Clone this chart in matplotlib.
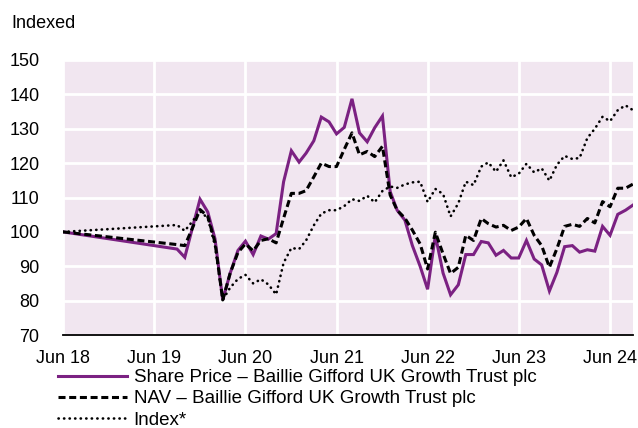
import matplotlib
matplotlib.use('Agg')
import matplotlib.pyplot as plt
import pandas as pd

# Data (indexed to 100 at Jun 2018)
start_date = '2018-06-30'
monthly_dates = pd.date_range('2019-09-30', '2024-09-30', freq='ME')

share_price = [
    95.0, 92.6, 101.0, 109.5, 105.8, 98.0, 80.2, 88.0, 94.6, 97.3,
    93.4, 98.8, 97.9, 99.5, 114.6, 123.6, 120.3, 122.9, 126.5, 133.4,
    132.0, 128.5, 130.4, 138.7, 128.8, 126.2, 130.3, 133.7, 111.7, 106.3,
    103.4, 96.0, 90.0, 83.3, 99.0, 88.0, 81.7, 84.6, 93.4, 93.4,
    97.2, 96.8, 93.2, 94.6, 92.4, 92.4, 97.5, 92.1, 90.4, 82.8,
    88.2, 95.7, 96.0, 94.1, 94.8, 94.4, 101.6, 99.0, 105.1, 106.3, 107.8,
]
nav = [
    96.3, 96.0, 101.0, 106.5, 104.5, 97.0, 80.2, 88.0, 94.0, 96.5,
    94.5, 97.5, 98.0, 96.8, 104.0, 111.2, 111.2, 112.0, 116.0, 120.0,
    119.0, 119.0, 124.0, 128.8, 122.4, 123.4, 121.9, 124.9, 110.7, 106.3,
    104.0, 100.5, 96.5, 89.2, 99.9, 93.6, 87.9, 89.7, 99.0, 97.5,
    103.9, 102.4, 101.4, 101.9, 100.4, 101.4, 103.9, 99.0, 96.0, 89.7,
    95.1, 101.6, 102.2, 101.6, 103.9, 102.6, 108.8, 107.3, 112.7, 112.7, 113.9,
]
index = [
    102.0, 100.3, 103.0, 106.0, 104.0, 96.0, 80.2, 83.8, 86.3, 87.5,
    85.0, 86.2, 84.7, 81.8, 91.0, 95.3, 95.0, 97.5, 101.9, 105.3,
    106.3, 106.3, 107.5, 109.5, 109.0, 110.5, 108.6, 111.9, 113.2, 112.8,
    113.8, 114.4, 114.6, 108.7, 112.5, 111.0, 104.5, 108.3, 114.6, 113.6,
    119.0, 120.2, 117.5, 120.8, 115.9, 116.9, 119.8, 117.3, 118.5, 114.9,
    119.5, 122.1, 121.2, 121.5, 127.3, 130.0, 133.5, 132.2, 135.4, 136.8, 135.4,
]

tick_years = [2018, 2019, 2020, 2021, 2022, 2023, 2024]
tick_labels = ['Jun 18', 'Jun 19', 'Jun 20', 'Jun 21', 'Jun 22', 'Jun 23', 'Jun 24']
y_ticks = [70, 80, 90, 100, 110, 120, 130, 140, 150]

labels = [
    'Share Price \u2013 Baillie Gifford UK Growth Trust plc',
    'NAV \u2013 Baillie Gifford UK Growth Trust plc',
    'Index*',
]

# Colours
purple = '#7B2182'
bg_color = '#F1E6F0'

plt.rcParams['font.family'] = ['Liberation Sans', 'DejaVu Sans']
plt.rcParams['font.size'] = 13

dates = [pd.Timestamp(start_date)] + list(monthly_dates)
share_series = [100.0] + share_price
nav_series = [100.0] + nav
index_series = [100.0] + index

fig = plt.figure(figsize=(6.38, 4.28), dpi=100)
ax = fig.add_axes([63 / 638, 1 - 335 / 428, 570 / 638, 275 / 428])
ax.set_facecolor(bg_color)

ax.plot(dates, share_series, color=purple, linewidth=2.2, label=labels[0],
        solid_joinstyle='miter')
ax.plot(dates, nav_series, color='black', linewidth=2.2, linestyle=(0, (2.3, 1.2)),
        label=labels[1])
ax.plot(dates, index_series, color='black', linewidth=1.9, linestyle=(0, (0.1, 2.0)),
        dash_capstyle='round', label=labels[2])

# Axes limits and ticks
ax.set_ylim(70, 150)
ax.set_xlim(pd.Timestamp(start_date), monthly_dates[-1])
ax.set_yticks(y_ticks)
ax.set_xticks([pd.Timestamp(f'{y}-06-30') for y in tick_years])
ax.set_xticklabels(tick_labels)
ax.tick_params(axis='both', length=0, labelsize=13)
ax.tick_params(axis='y', pad=17)
ax.tick_params(axis='x', pad=11)

# White grid behind the lines
ax.grid(True, color='white', linewidth=2)
ax.set_axisbelow(True)

# Only the bottom spine
for side in ['top', 'right', 'left']:
    ax.spines[side].set_visible(False)
ax.spines['bottom'].set_color('black')
ax.spines['bottom'].set_linewidth(1.3)

fig.text(11 / 638, 1 - 28 / 428, 'Indexed', fontsize=13, va='baseline', ha='left')

fig.legend(loc='upper left', bbox_to_anchor=(58 / 638, 1 - 369 / 428),
           frameon=False, borderpad=0, borderaxespad=0, handlelength=3.7,
           handletextpad=0.33, labelspacing=0.22, fontsize=13.5)

fig.savefig('out.png', dpi=100)
